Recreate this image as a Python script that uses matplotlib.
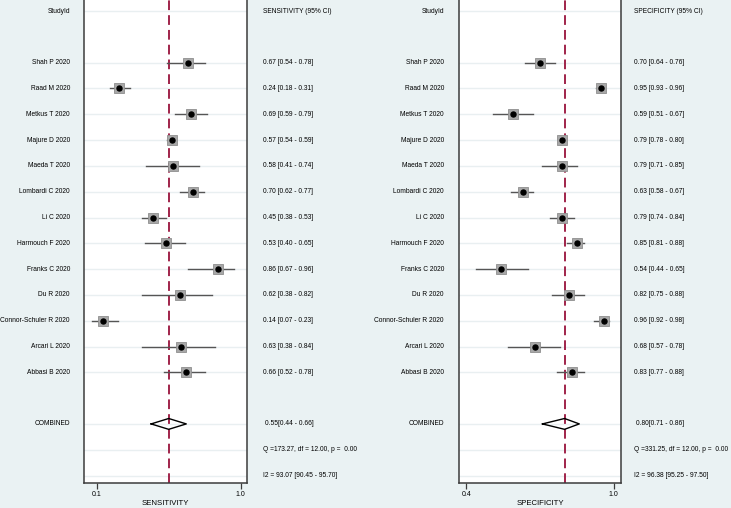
import matplotlib
matplotlib.use("Agg")
import matplotlib.pyplot as plt
import matplotlib.transforms as mtransforms

studies = ["Shah P 2020", "Raad M 2020", "Metkus T 2020", "Majure D 2020",
           "Maeda T 2020", "Lombardi C 2020", "Li C 2020", "Harmouch F 2020",
           "Franks C 2020", "Du R 2020", "Connor-Schuler R 2020",
           "Arcari L 2020", "Abbasi B 2020"]

sens = [0.67, 0.24, 0.69, 0.57, 0.58, 0.70, 0.45, 0.53, 0.86, 0.62, 0.14, 0.63, 0.66]
sens_lo = [0.54, 0.18, 0.59, 0.54, 0.41, 0.62, 0.38, 0.40, 0.67, 0.38, 0.07, 0.38, 0.52]
sens_hi = [0.78, 0.31, 0.79, 0.59, 0.74, 0.77, 0.53, 0.65, 0.96, 0.82, 0.23, 0.84, 0.78]
sens_comb = [0.55, 0.44, 0.66]
sens_q = "Q =173.27, df = 12.00, p =  0.00"
sens_i2 = "I2 = 93.07 [90.45 - 95.70]"

spec = [0.70, 0.95, 0.59, 0.79, 0.79, 0.63, 0.79, 0.85, 0.54, 0.82, 0.96, 0.68, 0.83]
spec_lo = [0.64, 0.93, 0.51, 0.78, 0.71, 0.58, 0.74, 0.81, 0.44, 0.75, 0.92, 0.57, 0.77]
spec_hi = [0.76, 0.96, 0.67, 0.80, 0.85, 0.67, 0.84, 0.88, 0.65, 0.88, 0.98, 0.78, 0.88]
spec_comb = [0.80, 0.71, 0.86]
spec_q = "Q =331.25, df = 12.00, p =  0.00"
spec_i2 = "I2 = 96.38 [95.25 - 97.50]"

plt.rcParams['font.family'] = ['Liberation Sans', 'DejaVu Sans']
BG = "#eaf2f3"
FS = 4.75

fig = plt.figure(figsize=(7.31, 5.08), dpi=100, facecolor=BG)


def forest(ax, est, lo, hi, comb, qtxt, i2txt, title, xlim, ticks, name_x, txt_x):
    n = len(est)
    rows = list(range(2, 2 + n))
    comb_row = n + 3
    ax.set_facecolor("white")
    ax.set_xlim(*xlim)
    ax.set_ylim(18.29, -0.43)

    # light row lines
    for r in [0] + rows + [comb_row, comb_row + 1, comb_row + 2]:
        ax.axhline(r, color="#e9eff1", lw=1.0, zorder=0)

    ax.axvline(comb[0], color="#a0244a", lw=1.4, ls=(0, (5, 2.6)), zorder=1)

    for r, e, l, h in zip(rows, est, lo, hi):
        ax.plot([l, h], [r, r], color="#555555", lw=1.0, zorder=2)
    ax.plot(est, rows, ls="none", marker="s", ms=6.6, mfc="#a8a8a8",
            mec="#8e8e8e", mew=0.6, zorder=3)
    ax.plot(est, rows, ls="none", marker="o", ms=3.6, color="black", zorder=4)

    c, cl, ch = comb
    ax.plot([cl, c, ch, c, cl], [comb_row, comb_row - 0.21, comb_row, comb_row + 0.21, comb_row],
            color="black", lw=1.0, zorder=3)

    ax.spines["top"].set_visible(False)
    for s in ["left", "right", "bottom"]:
        ax.spines[s].set_color("#3c3c3c")
        ax.spines[s].set_linewidth(1.1)
    ax.set_yticks([])
    ax.set_xticks(ticks)
    ax.set_xticklabels([f"{t:.1f}" for t in ticks], fontsize=FS + 0.3)
    ax.tick_params(axis="x", length=4, width=0.9, color="#3c3c3c", pad=2)
    ax.set_xlabel(title, fontsize=FS + 0.8, labelpad=1)

    tr = mtransforms.blended_transform_factory(ax.transAxes, ax.transData)
    ax.text(name_x, 0, "StudyId", ha="right", va="center", fontsize=FS, transform=tr)
    ax.text(txt_x, 0, f"{title} (95% CI)", ha="left", va="center", fontsize=FS, transform=tr)
    for r, name, e, l, h in zip(rows, studies, est, lo, hi):
        ax.text(name_x, r, name, ha="right", va="center", fontsize=FS, transform=tr)
        ax.text(txt_x, r, f"{e:.2f} [{l:.2f} - {h:.2f}]", ha="left", va="center",
                fontsize=FS, transform=tr)
    ax.text(name_x, comb_row, "COMBINED", ha="right", va="center", fontsize=FS, transform=tr)
    ax.text(txt_x + 0.01, comb_row, f"{c:.2f}[{cl:.2f} - {ch:.2f}]", ha="left", va="center",
            fontsize=FS, transform=tr)
    ax.text(txt_x, comb_row + 1, qtxt, ha="left", va="center", fontsize=FS, transform=tr)
    ax.text(txt_x, comb_row + 2, i2txt, ha="left", va="center", fontsize=FS, transform=tr)


ax1 = fig.add_axes([84 / 731, 25 / 508, 163 / 731, 483 / 508])
forest(ax1, sens, sens_lo, sens_hi, sens_comb, sens_q, sens_i2, "SENSITIVITY",
       (0.02, 1.04), [0.1, 1.0], -0.086, 1.098)

ax2 = fig.add_axes([459 / 731, 25 / 508, 162 / 731, 483 / 508])
forest(ax2, spec, spec_lo, spec_hi, spec_comb, spec_q, spec_i2, "SPECIFICITY",
       (0.37, 1.03), [0.4, 1.0], -0.093, 1.08)

fig.savefig("out.png", dpi=100, facecolor=BG)
